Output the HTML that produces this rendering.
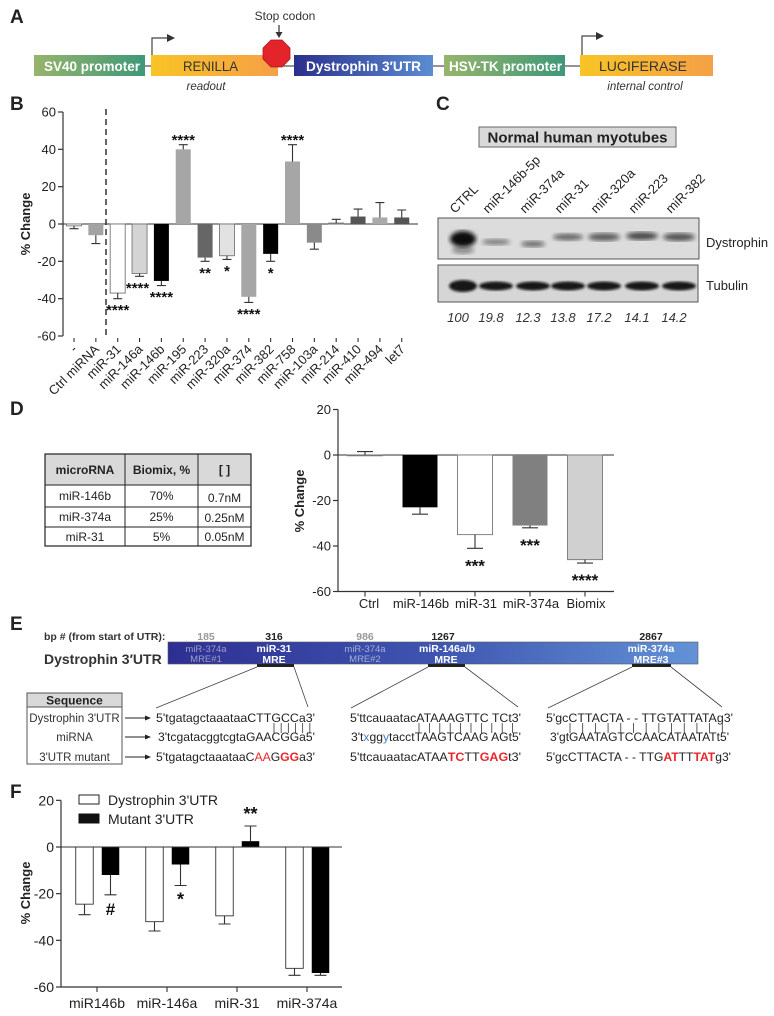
<!DOCTYPE html>
<html><head><meta charset="utf-8"><style>
html,body{margin:0;padding:0;background:#fff;}
svg{display:block;font-family:"Liberation Sans",Arial,sans-serif;}
</style></head><body>
<svg id="fig" width="774" height="1016" viewBox="0 0 774 1016" xmlns="http://www.w3.org/2000/svg">
<defs>
<linearGradient id="gGreen" x1="0" x2="1"><stop offset="0" stop-color="#97b46c"/><stop offset="1" stop-color="#3f9878"/></linearGradient>
<linearGradient id="gYel" x1="0" x2="1"><stop offset="0" stop-color="#f8c425"/><stop offset="1" stop-color="#f5a047"/></linearGradient>
<linearGradient id="gBlue" x1="0" x2="1"><stop offset="0" stop-color="#2b2f8c"/><stop offset="1" stop-color="#5b8dd2"/></linearGradient>
<linearGradient id="gBar" x1="0" x2="1"><stop offset="0" stop-color="#2e2e92"/><stop offset="0.5" stop-color="#3e55b0"/><stop offset="1" stop-color="#6392d6"/></linearGradient>
<filter id="blur2"><feGaussianBlur stdDeviation="2"/></filter>
<filter id="blur1"><feGaussianBlur stdDeviation="1.2"/></filter>
</defs>

<!-- Panel A -->
<g>
<text x="10" y="23" font-size="19" font-weight="bold" fill="#222">A</text>
<line x1="34" y1="66" x2="713" y2="66" stroke="#555" stroke-width="1.2"/>
<rect x="34" y="55" width="111" height="21" fill="url(#gGreen)"/>
<text x="44" y="71" font-size="14" font-weight="bold" fill="#fff" textLength="96" lengthAdjust="spacingAndGlyphs">SV40 promoter</text>
<rect x="151" y="55" width="127" height="21" fill="url(#gYel)"/>
<text x="183" y="71" font-size="14" fill="#333" textLength="55" lengthAdjust="spacingAndGlyphs">RENILLA</text>
<text x="206" y="90" font-size="11.5" font-style="italic" fill="#333" text-anchor="middle">readout</text>
<rect x="294" y="55" width="139" height="21" fill="url(#gBlue)"/>
<text x="306" y="71" font-size="14" font-weight="bold" fill="#fff" textLength="115" lengthAdjust="spacingAndGlyphs">Dystrophin 3′UTR</text>
<rect x="444" y="55" width="121" height="21" fill="url(#gGreen)"/>
<text x="449" y="71" font-size="14" font-weight="bold" fill="#fff" textLength="113" lengthAdjust="spacingAndGlyphs">HSV-TK promoter</text>
<rect x="580" y="55" width="133" height="21" fill="url(#gYel)"/>
<text x="599" y="71" font-size="14" fill="#333" textLength="88" lengthAdjust="spacingAndGlyphs">LUCIFERASE</text>
<text x="645" y="90" font-size="11.5" font-style="italic" fill="#333" text-anchor="middle">internal control</text>
<path d="M152 55 V38 H168" fill="none" stroke="#444" stroke-width="1.2"/>
<path d="M167 34 L175 38 L167 42 Z" fill="#333"/>
<path d="M582 55 V36 H597" fill="none" stroke="#444" stroke-width="1.2"/>
<path d="M596 32 L604 36 L596 40 Z" fill="#333"/>
<polygon points="271,40 282,40 290,48 290,59 282,67 271,67 263,59 263,48" fill="#e3242b" stroke="#a81a1f" stroke-width="0.8"/>
<text x="285" y="20" font-size="12" fill="#333" text-anchor="middle">Stop codon</text>
<line x1="279" y1="25" x2="279" y2="34" stroke="#333" stroke-width="1.2"/>
<path d="M275.5 32 L279 38 L282.5 32 Z" fill="#333"/>
</g>

<!-- Panel B -->
<g id="panelB">
<text x="10" y="110" font-size="19" font-weight="bold" fill="#222">B</text>
<text transform="translate(30,224) rotate(-90)" font-size="13" font-weight="bold" text-anchor="middle" fill="#222">% Change</text>
</g>

<!-- Panel C -->
<g>
<text x="436" y="110" font-size="19" font-weight="bold" fill="#222">C</text>
<rect x="479" y="127" width="197" height="20" fill="#d9d9d9" stroke="#666"/>
<text x="577.5" y="142.5" font-size="15" font-weight="bold" fill="#222" text-anchor="middle">Normal human myotubes</text>
<g id="laneLabels"></g>
<rect x="438" y="218" width="261" height="41" fill="#dcdcdc" stroke="#555"/>
<rect x="438" y="265" width="260" height="37" fill="#d6d6d6" stroke="#555"/>
<g id="bands"></g>
<text x="706" y="247" font-size="13" fill="#222">Dystrophin</text>
<text x="706" y="290" font-size="13" fill="#222">Tubulin</text>
<g id="quant"></g>
</g>

<!-- Panel D -->
<g id="panelD">
<text x="10" y="415" font-size="19" font-weight="bold" fill="#222">D</text>
<g>
<rect x="45" y="454" width="206" height="31" fill="#d9d9d9"/>
<rect x="45" y="454" width="206" height="92" fill="none" stroke="#222" stroke-width="1.2"/>
<line x1="125" y1="454" x2="125" y2="546" stroke="#222"/>
<line x1="198" y1="454" x2="198" y2="546" stroke="#222"/>
<line x1="45" y1="485" x2="251" y2="485" stroke="#222"/>
<line x1="45" y1="507" x2="251" y2="507" stroke="#222"/>
<line x1="45" y1="527" x2="251" y2="527" stroke="#222"/>
<g font-size="12" fill="#222" text-anchor="middle">
<text x="85" y="474" font-weight="bold">microRNA</text>
<text x="161.5" y="474" font-weight="bold">Biomix, %</text>
<text x="224.5" y="474" font-weight="bold">[ ]</text>
<text x="85" y="500">miR-146b</text>
<text x="161.5" y="500">70%</text>
<text x="224.5" y="502">0.7nM</text>
<text x="85" y="521">miR-374a</text>
<text x="161.5" y="521">25%</text>
<text x="224.5" y="522">0.25nM</text>
<text x="85" y="541">miR-31</text>
<text x="161.5" y="541">5%</text>
<text x="224.5" y="541">0.05nM</text>
</g>
</g>
<text transform="translate(304,501) rotate(-90)" font-size="13" font-weight="bold" text-anchor="middle" fill="#222">% Change</text>
</g>

<!-- Panel E -->
<g>
<text x="10" y="630" font-size="19" font-weight="bold" fill="#222">E</text>
<text x="44" y="640" font-size="10.5" font-weight="bold" fill="#333">bp # (from start of UTR):</text>
<text x="44" y="664" font-size="14" font-weight="bold" fill="#333">Dystrophin 3′UTR</text>
<rect x="168" y="642" width="530" height="22" fill="url(#gBar)" stroke="#555" stroke-width="0.6"/>
<g font-size="10.5" font-weight="bold" text-anchor="middle">
<text x="206" y="640" fill="#999">185</text>
<text x="274" y="640" fill="#222">316</text>
<text x="365" y="640" fill="#999">986</text>
<text x="443" y="640" fill="#222">1267</text>
<text x="651" y="640" fill="#222">2867</text>
</g>
<g font-size="9.5" text-anchor="middle">
<text x="206" y="652" fill="#9aa0c8">miR-374a</text>
<text x="206" y="662" fill="#9aa0c8">MRE#1</text>
<text x="274" y="652" fill="#fff" font-weight="bold" font-size="10.5">miR-31</text>
<text x="274" y="663" fill="#fff" font-weight="bold" font-size="10.5">MRE</text>
<text x="365" y="652" fill="#a6aed6">miR-374a</text>
<text x="365" y="662" fill="#a6aed6">MRE#2</text>
<text x="447" y="652" fill="#fff" font-weight="bold" font-size="10.5">miR-146a/b</text>
<text x="446" y="663" fill="#fff" font-weight="bold" font-size="10.5">MRE</text>
<text x="651" y="652" fill="#fff" font-weight="bold" font-size="10.5">miR-374a</text>
<text x="651" y="663" fill="#fff" font-weight="bold" font-size="10.5">MRE#3</text>
</g>
<g stroke="#222" stroke-width="3">
<line x1="257" y1="665.5" x2="294" y2="665.5"/>
<line x1="428" y1="665.5" x2="465" y2="665.5"/>
<line x1="632" y1="665.5" x2="671" y2="665.5"/>
</g>
<g stroke="#444" stroke-width="0.8">
<line x1="257" y1="667" x2="156" y2="708"/>
<line x1="294" y1="667" x2="308" y2="707"/>
<line x1="428" y1="667" x2="351" y2="708"/>
<line x1="465" y1="667" x2="518" y2="707"/>
<line x1="632" y1="667" x2="548" y2="708"/>
<line x1="671" y1="667" x2="722" y2="707"/>
</g>
<rect x="27" y="693" width="95" height="14" fill="#d9d9d9" stroke="#555"/>
<rect x="27" y="693" width="95" height="71" fill="none" stroke="#555"/>
<text x="74.5" y="704.5" font-size="12" font-weight="bold" text-anchor="middle" fill="#222">Sequence</text>
<g font-size="11.5" fill="#333" text-anchor="middle">
<text x="74.5" y="722">Dystrophin 3'UTR</text>
<text x="74.5" y="741">miRNA</text>
<text x="74.5" y="761">3'UTR mutant</text>
</g>
<g stroke="#222" stroke-width="1">
<line x1="125" y1="718" x2="146" y2="718"/>
<line x1="125" y1="737" x2="146" y2="737"/>
<line x1="125" y1="757" x2="146" y2="757"/>
</g>
<g fill="#222">
<path d="M145 715.5 L151 718 L145 720.5Z"/>
<path d="M145 734.5 L151 737 L145 739.5Z"/>
<path d="M145 754.5 L151 757 L145 759.5Z"/>
</g>
<g font-size="12" fill="#222">
<text x="156" y="722" textLength="159" lengthAdjust="spacingAndGlyphs">5'tgatagctaaataaCTTGCCa3'</text>
<text x="158" y="741" textLength="157" lengthAdjust="spacingAndGlyphs">3'tcgatacggtcgtaGAACGGa5'</text>
<text x="156" y="761" textLength="159" lengthAdjust="spacingAndGlyphs">5'tgatagctaaataaC<tspan fill="#e8262c">AA</tspan>G<tspan fill="#e8262c" font-weight="bold">GG</tspan>a3'</text>
<text x="350" y="722" textLength="171" lengthAdjust="spacingAndGlyphs">5'ttcauaatacATAAAGTTC TCt3'</text>
<text x="351" y="741" textLength="170" lengthAdjust="spacingAndGlyphs">3't<tspan fill="#4a7fc8">x</tspan>gg<tspan fill="#4a7fc8">y</tspan>tacctTAAGTCAAG AGt5'</text>
<text x="350" y="761" textLength="171" lengthAdjust="spacingAndGlyphs">5'ttcauaatacATAA<tspan fill="#e8262c" font-weight="bold">TC</tspan>TT<tspan fill="#e8262c" font-weight="bold">GAG</tspan>t3'</text>
<text x="546" y="722" textLength="187" lengthAdjust="spacingAndGlyphs">5'gcCTTACTA - - TTGTATTATAg3'</text>
<text x="550" y="741" textLength="179" lengthAdjust="spacingAndGlyphs">3'gtGAATAGTCCAACATAATATt5'</text>
<text x="546" y="761" textLength="185" lengthAdjust="spacingAndGlyphs">5'gcCTTACTA - - TTG<tspan fill="#e8262c" font-weight="bold">AT</tspan>TT<tspan fill="#e8262c" font-weight="bold">TAT</tspan>g3'</text>
</g>
<g id="pairs" stroke="#333" stroke-width="0.8"></g>
</g>

<!-- Panel F -->
<g id="panelF">
<text x="10" y="798" font-size="19" font-weight="bold" fill="#222">F</text>
<text transform="translate(30,893) rotate(-90)" font-size="13" font-weight="bold" text-anchor="middle" fill="#222">% Change</text>
<rect x="79" y="795" width="20" height="9" fill="#fff" stroke="#222"/>
<text x="108" y="805" font-size="14" fill="#222">Dystrophin 3'UTR</text>
<rect x="79" y="814" width="20" height="9" fill="#111" stroke="#111"/>
<text x="108" y="824" font-size="14" fill="#222">Mutant 3'UTR</text>
</g>
</svg>

<script>
// ---------- Panel B data ----------
const bCategories = ["-", "Ctrl miRNA", "miR-31", "miR-146a", "miR-146b", "miR-195", "miR-223", "miR-320a", "miR-374", "miR-382", "miR-758", "miR-103a", "miR-214", "miR-410", "miR-494", "let7"];
const bValues = [-1, -6, -37, -26.5, -30.5, 40, -18, -17, -39, -16, 33.5, -10, 0.5, 4, 3.5, 3.5];
const bErrors = [1.5, 4.5, 3, 1.5, 2.5, 2.5, 2, 2, 3, 4, 9, 3.5, 2, 4, 8, 4];
const bStars = ["", "", "****", "****", "****", "****", "**", "*", "****", "*", "****", "", "", "", "", ""];
const bColors = ["#ffffff", "#a3a3a3", "#ffffff", "#d4d4d4", "#000000", "#a6a6a6", "#666666", "#e2e2e2", "#a6a6a6", "#000000", "#a6a6a6", "#8a8a8a", "#dcdcdc", "#555555", "#aaaaaa", "#555555"];
const bTicks = [60, 40, 20, 0, -20, -40, -60];

// ---------- Panel C data ----------
const cLanes = ["CTRL", "miR-146b-5p", "miR-374a", "miR-31", "miR-320a", "miR-223", "miR-382"];
const cQuant = ["100", "19.8", "12.3", "13.8", "17.2", "14.1", "14.2"];

// ---------- Panel D data ----------
const dCategories = ["Ctrl", "miR-146b", "miR-31", "miR-374a", "Biomix"];
const dValues = [0, -23, -35, -31, -46];
const dErrors = [1.5, 3, 6, 1, 1.5];
const dStars = ["", "", "***", "***", "****"];
const dColors = ["#ffffff", "#000000", "#ffffff", "#808080", "#d0d0d0"];
const dTicks = [20, 0, -20, -40, -60];

// ---------- Panel F data ----------
const fCategories = ["miR146b", "miR-146a", "miR-31", "miR-374a"];
const fWild = [-24.5, -32, -29.5, -52];
const fWildErr = [4.5, 4, 3.5, 3];
const fMut = [-12, -7.5, 2.5, -54];
const fMutErr = [8.5, 9, 6.5, 1];
const fMutMarks = ["#", "*", "**", ""];
const fTicks = [20, 0, -20, -40, -60];

const NS = "http://www.w3.org/2000/svg";
function mk(parent, tag, attrs, txt) {
  const e = document.createElementNS(NS, tag);
  for (const k in attrs) e.setAttribute(k, attrs[k]);
  if (txt !== undefined) e.textContent = txt;
  parent.appendChild(e);
  return e;
}

function drawBar(g, xc, w, y0, yv, fill) {
  const top = Math.min(y0, yv), h = Math.abs(yv - y0);
  const stroke = (fill === "#ffffff" || fill === "#e2e2e2" || fill === "#dcdcdc" || fill === "#d4d4d4" || fill === "#d0d0d0") ? "#777" : "none";
  return mk(g, "rect", {x: xc - w / 2, y: top, width: w, height: Math.max(h, 0.8), fill: fill, stroke: stroke, "stroke-width": 0.9});
}
function drawErr(g, xc, yv, ye, cap) {
  return mk(g, "path", {d: `M${xc} ${yv} V${ye} M${xc - cap} ${ye} H${xc + cap}`, stroke: "#333", "stroke-width": 1.1, fill: "none"});
}

// ---------- Panel B ----------
(function () {
  const g = document.getElementById("panelB");
  const yB = v => 224 - v * (112 / 60);
  const xB = i => 74 + i * 21.85;
  const axisX = 63;
  const ax = mk(g, "line", {x1: axisX, y1: yB(60), x2: axisX, y2: yB(-60), stroke: "#333", "stroke-width": 1.2});
  
  
  bTicks.forEach(t => {
    const tk = mk(g, "line", {x1: axisX - 5, y1: yB(t), x2: axisX, y2: yB(t), stroke: "#333", "stroke-width": 1.2});
    
    
    const lb = mk(g, "text", {x: axisX - 7, y: yB(t) + 4.5, "font-size": 13, "text-anchor": "end", fill: "#222"}, String(t));
    
    
  });
  const zl = mk(g, "line", {x1: axisX, y1: yB(0), x2: 418, y2: yB(0), stroke: "#333", "stroke-width": 1.1});
  
  
  const dl = mk(g, "line", {x1: 106, y1: 109, x2: 106, y2: yB(-60), stroke: "#333", "stroke-width": 1.5, "stroke-dasharray": "6,4"});
  
  
  bCategories.forEach((c, i) => {
    const xc = xB(i), v = bValues[i];
    const bar = drawBar(g, xc, 15, yB(0), yB(v), bColors[i]);
    
    
    const ev = v >= 0 ? v + bErrors[i] : v - bErrors[i];
    const er = drawErr(g, xc, yB(v), yB(ev), 4.5);
    
    
    if (bStars[i]) {
      const yc = v >= 0 ? yB(ev) - 8 : yB(ev) + 8;
      const st = mk(g, "text", {x: xc + (i === 3 ? -2 : 0), y: yc + 8.5, "font-size": 15, "font-weight": "bold", "text-anchor": "middle", fill: "#111"}, bStars[i]);
      
      
    }
    const tk = mk(g, "line", {x1: xc, y1: yB(-60) + 2, x2: xc, y2: yB(-60) + 6, stroke: "#333", "stroke-width": 1.1});
    
    
    const lb = mk(g, "text", {x: xc + 4, y: yB(-60) + 14, "font-size": 13, "text-anchor": "end", fill: "#222", transform: `rotate(-45 ${xc + 4} ${yB(-60) + 14})`}, c);
    
    
  });
})();

// ---------- Panel C ----------
(function () {
  const lanesX = [463, 496, 533, 568, 604, 642, 679];
  const ll = document.getElementById("laneLabels");
  cLanes.forEach((c, i) => {
    const x = lanesX[i] - 8, y = 214;
    const t = mk(ll, "text", {x: x, y: y, "font-size": 13, fill: "#222", transform: `rotate(-45 ${x} ${y})`}, c);
    
    
  });
  const bands = document.getElementById("bands");
  const dys = [{rx: 13, ry: 8, o: 1, dy: 0}, {rx: 14, ry: 3, o: 0.45, dy: 3}, {rx: 12, ry: 3, o: 0.55, dy: 5}, {rx: 15, ry: 3.5, o: 0.55, dy: -2}, {rx: 16, ry: 4, o: 0.6, dy: -2}, {rx: 16, ry: 4, o: 0.7, dy: -3}, {rx: 16, ry: 4, o: 0.65, dy: -2}];
  dys.forEach((b, i) => {
    const e = mk(bands, "ellipse", {cx: lanesX[i], cy: 239 + b.dy, rx: b.rx, ry: b.ry, fill: "#111", opacity: b.o, filter: "url(#blur2)"});
    
    
  });
  const ctrlTail = mk(bands, "ellipse", {cx: 463, cy: 250, rx: 11, ry: 4, fill: "#444", opacity: 0.5, filter: "url(#blur2)"});
  
  
  lanesX.forEach((x, i) => {
    const e = mk(bands, "ellipse", {cx: x, cy: 286, rx: i === 0 ? 14 : 17, ry: i === 0 ? 6 : 4.5, fill: "#111", opacity: 0.95, filter: "url(#blur1)"});
    
    
  });
  const q = document.getElementById("quant");
  cQuant.forEach((v, i) => {
    const t = mk(q, "text", {x: lanesX[i] - 5, y: 322, "font-size": 13, "font-style": "italic", "text-anchor": "middle", fill: "#333"}, v);
    
    
  });
})();

// ---------- Panel D ----------
(function () {
  const g = document.getElementById("panelD");
  const yD = v => 455 - v * (45.5 / 20);
  const xD = i => 365 + i * 55;
  const axisX = 338;
  const ax = mk(g, "line", {x1: axisX, y1: yD(20), x2: axisX, y2: yD(-60), stroke: "#333", "stroke-width": 1.2});
  
  
  dTicks.forEach(t => {
    const tk = mk(g, "line", {x1: axisX - 5, y1: yD(t), x2: axisX, y2: yD(t), stroke: "#333", "stroke-width": 1.2});
    
    
    const lb = mk(g, "text", {x: axisX - 7, y: yD(t) + 4.5, "font-size": 13, "text-anchor": "end", fill: "#222"}, String(t));
    
    
  });
  const xa = mk(g, "line", {x1: axisX, y1: yD(-60), x2: 614, y2: yD(-60), stroke: "#333", "stroke-width": 1.2});
  
  
  const zl = mk(g, "line", {x1: axisX, y1: yD(0), x2: 614, y2: yD(0), stroke: "#333", "stroke-width": 1.1});
  
  
  dCategories.forEach((c, i) => {
    const xc = xD(i), v = dValues[i];
    const bar = drawBar(g, xc, 35, yD(0), yD(v), dColors[i]);
    
    
    const ev = v >= 0 ? v + dErrors[i] : v - dErrors[i];
    const er = drawErr(g, xc, yD(v), yD(ev), 8);
    
    
    if (dStars[i]) {
      const yc = yD(ev) + 14;
      const st = mk(g, "text", {x: xc, y: yc + 9, "font-size": 17, "font-weight": "bold", "text-anchor": "middle", fill: "#111"}, dStars[i]);
      
      
    }
    const tk = mk(g, "line", {x1: xc, y1: yD(-60), x2: xc, y2: yD(-60) + 5, stroke: "#333", "stroke-width": 1.1});
    
    
    const lb = mk(g, "text", {x: xc + (i === 0 ? 4 : 1), y: 608, "font-size": 13, "text-anchor": "middle", fill: "#222"}, c);
    
    
  });
})();

// ---------- Panel E base-pair ticks ----------
(function () {
  const g = document.getElementById("pairs");
  const groups = [[255, 315, 6, 266], [410, 521, 10, 411], [560, 733, 13, 562]];
  groups.forEach(gr => {
    const [x0, x1, n, start] = gr;
    const step = (x1 - 6 - start) / n;
    for (let k = 0; k < n; k++) {
      const x = start + 8 + k * step;
      const l = mk(g, "line", {x1: x, y1: 723, x2: x, y2: 733});
      
      
    }
  });
})();

// ---------- Panel F ----------
(function () {
  const g = document.getElementById("panelF");
  const yF = v => 847 - v * (46.67 / 20);
  const xF = i => 97 + i * 70;
  const axisX = 61;
  const ax = mk(g, "line", {x1: axisX, y1: yF(20), x2: axisX, y2: yF(-60), stroke: "#333", "stroke-width": 1.2});
  
  
  fTicks.forEach(t => {
    const tk = mk(g, "line", {x1: axisX - 5, y1: yF(t), x2: axisX, y2: yF(t), stroke: "#333", "stroke-width": 1.2});
    
    
    const lb = mk(g, "text", {x: axisX - 7, y: yF(t) + 5, "font-size": 14, "text-anchor": "end", fill: "#222"}, String(t));
    
    
  });
  const xa = mk(g, "line", {x1: axisX, y1: yF(-60), x2: 342, y2: yF(-60), stroke: "#333", "stroke-width": 1.2});
  
  
  fCategories.forEach((c, i) => {
    const xw = xF(i) - 12.5, xm = xF(i) + 13.5;
    const b1 = drawBar(g, xw, 17.5, yF(0), yF(fWild[i]), "#ffffff");
    b1.setAttribute('stroke', '#333');
    
    
    const e1 = drawErr(g, xw, yF(fWild[i]), yF(fWild[i] - fWildErr[i]), 6);
    
    
    const b2 = drawBar(g, xm, 17.5, yF(0), yF(fMut[i]), "#000000");
    
    
    const ev = fMut[i] >= 0 ? fMut[i] + fMutErr[i] : fMut[i] - fMutErr[i];
    const e2 = drawErr(g, xm, yF(fMut[i]), yF(ev), 6);
    
    
    if (fMutMarks[i]) {
      const isPos = fMut[i] >= 0;
      const mark = fMutMarks[i];
      const yb = isPos ? yF(ev) - 6 : yF(ev) + 20;
      const st = mk(g, "text", {x: xm, y: yb, "font-size": mark === "#" ? 17 : 18, "font-weight": "bold", "text-anchor": "middle", fill: "#111"}, mark);
      
      
    }
    const tk = mk(g, "line", {x1: xF(i), y1: yF(-60), x2: xF(i), y2: yF(-60) + 5, stroke: "#333", "stroke-width": 1.1});
    
    
    const lb = mk(g, "text", {x: xF(i), y: 1008, "font-size": 14, "text-anchor": "middle", fill: "#222"}, c);
    
    
  });
  const zl = mk(g, "line", {x1: axisX, y1: yF(0), x2: 342, y2: yF(0), stroke: "#333", "stroke-width": 1.1});
  
  
})();
</script>
</body></html>
